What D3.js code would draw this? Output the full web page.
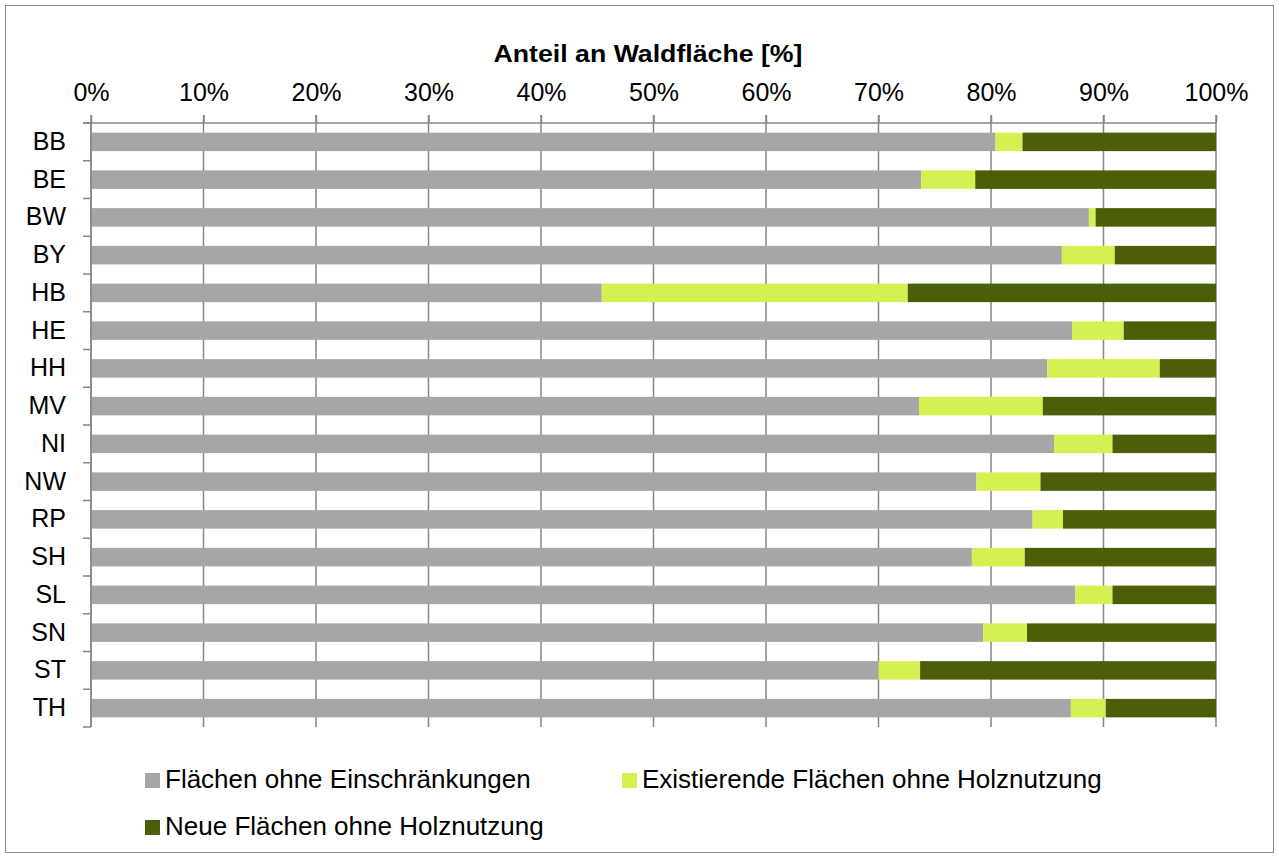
<!DOCTYPE html>
<html>
<head>
<meta charset="utf-8">
<script src="https://cdn.jsdelivr.net/npm/d3@7"></script>
<style>
  body { margin: 0; background: #fff; }
  svg { font-family: "Liberation Sans", Arial, sans-serif; }
</style>
</head>
<body>
<div id="chart"></div>
<script>
// data (percent of forest area)
const states = ["BB","BE","BW","BY","HB","HE","HH","MV","NI","NW","RP","SH","SL","SN","ST","TH"];
const ohneEinschr = [80.4,73.8,88.7,86.3,45.4,87.2,85.0,73.6,85.6,78.7,83.7,78.3,87.5,79.3,70.0,87.1];
const existierend = [2.4,4.8,0.6,4.7,27.2,4.6,10.0,11.0,5.2,5.7,2.7,4.7,3.3,3.9,3.7,3.1];
const neue = [17.2,21.4,10.7,9.0,27.4,8.2,5.0,15.4,9.2,15.6,13.6,17.0,9.2,16.8,26.3,9.8];
const seriesNames = ["Flächen ohne Einschränkungen","Existierende Flächen ohne Holznutzung","Neue Flächen ohne Holznutzung"];
const seriesKeys = ["a","b","c"];
const colors = ["#a6a6a6","#d4f152","#4b5f08"];
const xTicks = [0,10,20,30,40,50,60,70,80,90,100];

const W = 1279, H = 858;
const margin = { top: 123, right: 63, bottom: 131, left: 91 };
const width = W - margin.left - margin.right;
const height = H - margin.top - margin.bottom;
const fontFam = "Liberation Sans, Arial, sans-serif";

const table = states.map((s, i) => ({ state: s, a: ohneEinschr[i], b: existierend[i], c: neue[i] }));

const svgRoot = d3.select("#chart").append("svg")
  .attr("width", W).attr("height", H);

// outer frame
svgRoot.append("rect")
  .attr("x", 5.5).attr("y", 5.5).attr("width", W - 11).attr("height", H - 11)
  .attr("fill", "#fff").attr("stroke", "#8c8c8c").attr("stroke-width", 1);

const svg = svgRoot.append("g")
  .attr("transform", `translate(${margin.left},${margin.top})`);

const x = d3.scaleLinear().domain([0, 100]).range([0, width]);
const y = d3.scaleBand().domain(states).range([0, height]).paddingInner(0.51).paddingOuter(0.255);
const yEdges = d3.scaleLinear().domain([0, states.length]).range([0, height]);

// gridlines
svg.append("g").selectAll("line")
  .data(xTicks)
  .join("line")
    .attr("x1", d => x(d)).attr("x2", d => x(d))
    .attr("y1", -8).attr("y2", height)
    .attr("stroke", "#868686").attr("stroke-width", 1.5);

// stacked bars
const stack = d3.stack().keys(seriesKeys);
const layers = stack(table);

svg.append("g").selectAll("g")
  .data(layers)
  .join("g")
    .attr("fill", (d, i) => colors[i])
  .selectAll("rect")
  .data(d => d)
  .join("rect")
    .attr("x", d => x(d[0]))
    .attr("width", d => x(d[1]) - x(d[0]))
    .attr("y", d => y(d.data.state))
    .attr("height", y.bandwidth());

// top axis
const xAxis = svg.append("g")
  .call(d3.axisTop(x).tickValues(xTicks).tickFormat(d => d + "%").tickSize(8).tickPadding(14));
xAxis.select(".domain").remove();
xAxis.selectAll(".tick line").attr("stroke", "#868686").attr("stroke-width", 1.5);
xAxis.selectAll("text").attr("font-size", 25).attr("fill", "#000").attr("font-family", fontFam);
svg.append("line")
  .attr("x1", -8).attr("x2", width).attr("y1", 0).attr("y2", 0)
  .attr("stroke", "#868686").attr("stroke-width", 1.5);

// left axis with ticks at band edges
const yAxis = svg.append("g")
  .call(d3.axisLeft(y).tickSize(0).tickPadding(25));
yAxis.select(".domain").remove();
yAxis.selectAll("text").attr("font-size", 25).attr("fill", "#000").attr("font-family", fontFam);
svg.append("g").selectAll("line")
  .data(d3.range(states.length + 1))
  .join("line")
    .attr("x1", -8).attr("x2", 0)
    .attr("y1", d => yEdges(d)).attr("y2", d => yEdges(d))
    .attr("stroke", "#868686").attr("stroke-width", 1.5);
svg.append("line")
  .attr("x1", 0).attr("x2", 0).attr("y1", 0).attr("y2", height)
  .attr("stroke", "#868686").attr("stroke-width", 1.5);

// title
svgRoot.append("text")
  .attr("x", 648).attr("y", 62)
  .attr("text-anchor", "middle")
  .attr("font-size", 24).attr("font-weight", "bold")
  .attr("textLength", 309).attr("lengthAdjust", "spacingAndGlyphs")
  .text("Anteil an Waldfläche [%]");

// legend
const legendPos = [[145, 788], [622, 788], [145, 835]];
const legend = svgRoot.append("g").selectAll("g")
  .data(seriesNames)
  .join("g")
    .attr("transform", (d, i) => `translate(${legendPos[i][0]},${legendPos[i][1]})`);
legend.append("rect")
  .attr("x", 0).attr("y", -15).attr("width", 15).attr("height", 15)
  .attr("fill", (d, i) => colors[i]);
legend.append("text")
  .attr("x", 20).attr("y", 0)
  .attr("font-size", 26)
  .text(d => d);
</script>
</body>
</html>
